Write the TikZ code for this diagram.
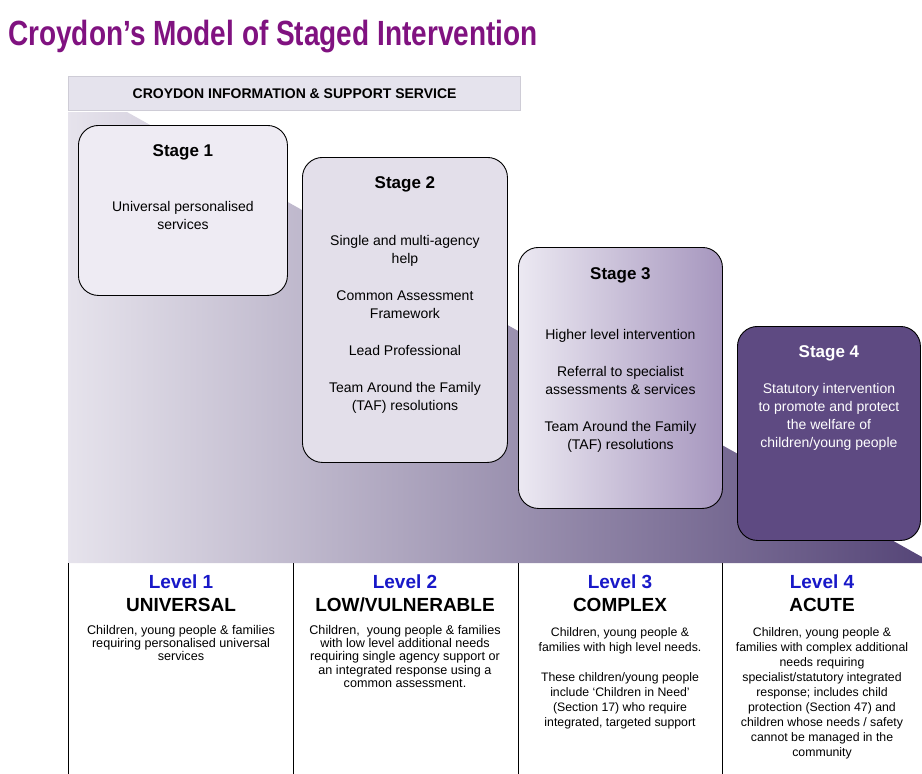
\documentclass[tikz,border=0pt]{standalone}
\usepackage{fontspec}
\setmainfont{Liberation Sans}
\newfontfamily\narrowfont{Liberation Sans}[FakeStretch=0.8]
\usetikzlibrary{positioning}

\definecolor{titlepurple}{RGB}{128,18,128}
\definecolor{levelblue}{RGB}{24,24,200}
\definecolor{bannerfill}{RGB}{229,227,237}
\definecolor{bannerline}{RGB}{206,204,214}
\definecolor{stepleft}{RGB}{230,227,236}
\definecolor{stepright}{RGB}{86,70,120}
\definecolor{stageone}{RGB}{238,235,243}
\definecolor{stagetwo}{RGB}{227,223,234}
\definecolor{stagethreeleft}{RGB}{236,233,242}
\definecolor{stagethreeright}{RGB}{166,150,190}
\definecolor{stagefour}{RGB}{94,74,130}

\begin{document}
\begin{tikzpicture}[
		x=1pt, y=-1pt,
		stagebox/.style={
			draw=black, line width=0.9pt, rounded corners=20pt,
			anchor=north west, inner sep=0pt,
		},
		stagetitle/.style={
			font=\fontsize{17}{20}\selectfont\bfseries,
			inner sep=0pt, outer sep=0pt,
		},
		stagetext/.style={
			font=\fontsize{14}{18}\selectfont,
			align=center, inner sep=0pt, outer sep=0pt,
		},
		levelhead/.style={
			font=\fontsize{19}{22}\selectfont\bfseries,
			anchor=base, inner sep=0pt,
		},
		leveltext/.style={
			font=\fontsize{12.6}{13.3}\selectfont,
			align=center, anchor=north, inner sep=0pt,
		},
		colline/.style={
			draw=black, line width=1pt,
		},
	]
		\useasboundingbox (0,0) rectangle (922,774);

		\node[anchor=base west, inner sep=0pt, text=titlepurple,
			font=\narrowfont\bfseries\fontsize{35}{40}\selectfont] (title) at (8,45)
			{Croydon’s Model of Staged Intervention};

		\node[anchor=north west, fill=bannerfill, draw=bannerline, line width=1.2pt,
			minimum width=452pt, minimum height=34pt,
			font=\fontsize{14}{16}\selectfont\bfseries] (banner) at (68,76)
			{CROYDON INFORMATION \& SUPPORT SERVICE};

		\shade[left color=stepleft, right color=stepright]
			(68,112) -- (127,112) -- (922,557) -- (922,563) -- (68,563) -- cycle;

		\node[stagebox, fill=stageone, minimum width=209pt, minimum height=170pt] (st1) at (78,125) {};
		\node[stagetitle, below=20pt of st1.north] (st1title) {Stage 1};
		\node[stagetext, below=76pt of st1.north] (st1text) {Universal personalised\\services};

		\node[stagebox, fill=stagetwo, minimum width=205pt, minimum height=305pt] (st2) at (302,157) {};
		\node[stagetitle, below=20pt of st2.north] (st2title) {Stage 2};
		\node[stagetext, below=78pt of st2.north] (st2text)
			{Single and multi-agency\\help\\[19pt]Common Assessment\\Framework\\[19pt]Lead Professional\\[19pt]Team Around the Family\\(TAF) resolutions};

		\node[stagebox, left color=stagethreeleft, right color=stagethreeright,
			minimum width=204pt, minimum height=261pt] (st3) at (518,247) {};
		\node[stagetitle, below=21pt of st3.north] (st3title) {Stage 3};
		\node[stagetext, below=82pt of st3.north] (st3text)
			{Higher level intervention\\[19pt]Referral to specialist\\assessments \& services\\[19pt]Team Around the Family\\(TAF) resolutions};

		\node[stagebox, fill=stagefour, minimum width=183pt, minimum height=214pt] (st4) at (737,326) {};
		\node[stagetitle, text=white, below=20pt of st4.north] (st4title) {Stage 4};
		\node[stagetext, text=white, below=57pt of st4.north] (st4text)
			{Statutory intervention\\to promote and protect\\the welfare of\\children/young people};

		\coordinate (c0) at (68,563);
		\coordinate (c1) at (293,563);
		\coordinate (c2) at (518,563);
		\coordinate (c3) at (722,563);
		\draw[colline] (c0) -- ++(0,-211pt);
		\draw[colline] (c1) -- ++(0,-211pt);
		\draw[colline] (c2) -- ++(0,-211pt);
		\draw[colline] (c3) -- ++(0,-211pt);

		\node[levelhead, text=levelblue] (lv1) at (181,588) {Level 1};
		\node[levelhead] (lv1name) at (181,611) {UNIVERSAL};
		\node[leveltext] (lv1text) at (181,625)
			{Children, young people \& families\\requiring personalised universal\\services};

		\node[levelhead, text=levelblue] (lv2) at (405,588) {Level 2};
		\node[levelhead] (lv2name) at (405,611) {LOW/VULNERABLE};
		\node[leveltext] (lv2text) at (405,625)
			{Children,\ \ young people \& families\\with low level additional needs\\requiring single agency support or\\an integrated response using a\\common assessment.};

		\node[levelhead, text=levelblue] (lv3) at (620,588) {Level 3};
		\node[levelhead] (lv3name) at (620,611) {COMPLEX};
		\node[leveltext, font=\fontsize{12.3}{15}\selectfont] (lv3text) at (620,627)
			{Children, young people \&\\families with high level needs.\\[15pt]These children/young people\\include ‘Children in Need’\\(Section 17) who require\\integrated, targeted support};

		\node[levelhead, text=levelblue] (lv4) at (822,588) {Level 4};
		\node[levelhead] (lv4name) at (822,611) {ACUTE};
		\node[leveltext, font=\fontsize{12.3}{15}\selectfont] (lv4text) at (822,627)
			{Children, young people \&\\families with complex additional\\needs requiring\\specialist/statutory integrated\\response; includes child\\protection (Section 47) and\\children whose needs / safety\\cannot be managed in the\\community};
	\end{tikzpicture}
\end{document}
